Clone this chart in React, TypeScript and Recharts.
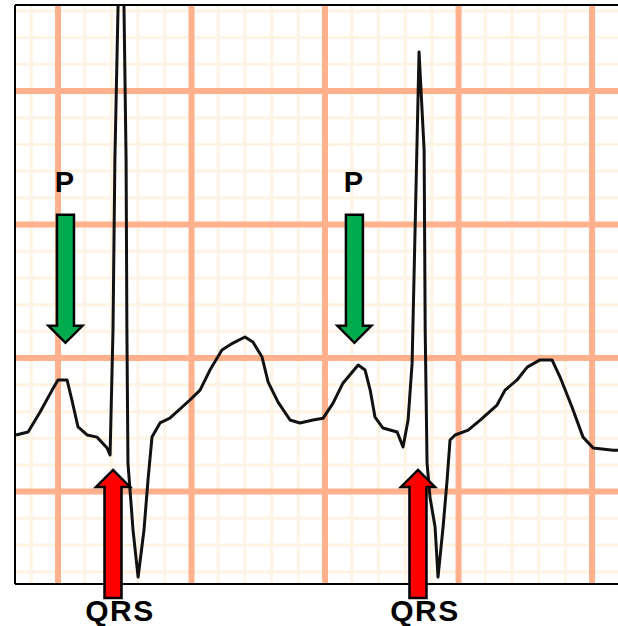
import React from 'react'
import { LineChart, Line, XAxis, YAxis, ReferenceLine, ReferenceDot } from 'recharts'

// one unit = one small (1 mm) box of the ECG paper
const traceX = [
  -1.57, -1.12, -0.67, -0.22, 0, 0.34, 0.52, 0.75, 1.09, 1.46, 1.84, 1.95, 2.06, 2.13, 2.25, 2.36,
  2.47, 2.55, 2.58, 2.62, 2.81, 3.0, 3.22, 3.37, 3.52, 3.82, 4.19, 4.94, 5.32, 5.69, 6.14, 6.55,
  7.0, 7.3, 7.64, 7.87, 8.24, 8.69, 9.06, 9.55, 9.93, 10.3, 10.67, 11.24, 11.5, 11.69, 11.87,
  12.17, 12.7, 12.92, 13.11, 13.26, 13.52, 13.71, 13.75, 13.82, 13.93, 14.12, 14.23, 14.42,
  14.57, 14.68, 14.87, 15.36, 15.81, 16.44, 16.74, 17.19, 17.57, 18.05, 18.5, 18.8, 19.25,
  19.66, 20.04, 20.79, 20.97,
]
const traceY = [
  2.12, 2.23, 2.98, 3.8, 4.18, 4.18, 3.43, 2.42, 2.12, 2.04, 1.63, 1.37, 6.05, 12.42, 18.22, 19.34,
  18.22, 12.42, 6.05, 1.07, -1.44, -3.2, -1.44, 0.43, 2.04, 2.57, 2.75, 3.43, 3.8, 4.55, 5.3, 5.56,
  5.79, 5.6, 5.04, 4.1, 3.35, 2.68, 2.57, 2.68, 2.75, 3.31, 4.06, 4.74, 4.55, 3.8, 2.79,
  2.38, 2.23, 1.67, 2.68, 4.81, 16.46, 12.79, 6.05, 1.07, -0.21, -1.33, -3.2, -1.33,
  0.43, 1.93, 2.12, 2.3, 2.68, 3.24, 3.8, 4.18, 4.66, 4.93, 4.93, 4.29, 3.16,
  2.04, 1.63, 1.55, 1.55,
]

const minorTicksX = [-1, 1, 2, 3, 4, 6, 7, 8, 9, 11, 12, 13, 14, 16, 17, 18, 19]
const majorTicksX = [0, 5, 10, 15, 20]
const minorTicksY = [-3, -2, -1, 1, 2, 3, 4, 6, 7, 8, 9, 11, 12, 13, 14, 16, 17, 18]
const majorTicksY = [0, 5, 10, 15]

const pWaves = [
  { x: 0.28, y: 5.57 },
  { x: 11.1, y: 5.57 },
]
const qrsComplexes = [
  { x: 2.06, y: 0.81 },
  { x: 13.48, y: 0.81 },
]

const data = traceX.map((x, i) => ({ x, v: traceY[i] }))

const X_DOMAIN: [number, number] = [-1.61, 20.97]
const Y_DOMAIN: [number, number] = [-3.46, 18.22]

const FONT = '"Liberation Sans", Arial, sans-serif'

type DotShapeProps = { cx?: number; cy?: number }

const DownArrow = ({ cx = 0, cy = 0 }: DotShapeProps) => {
  const pts = [
    [cx - 8.5, cy - 128],
    [cx + 8.5, cy - 128],
    [cx + 8.5, cy - 17],
    [cx + 17, cy - 17],
    [cx, cy],
    [cx - 17, cy - 17],
    [cx - 8.5, cy - 17],
  ]
  return (
    <g>
      <polygon
        points={pts.map((p) => p.join(',')).join(' ')}
        fill="#00AB4E"
        stroke="#000"
        strokeWidth={2.5}
      />
      <text
        x={cx - 1}
        y={cy - 151}
        textAnchor="middle"
        fontFamily={FONT}
        fontWeight="bold"
        fontSize={29}
        fill="#000"
      >
        P
      </text>
    </g>
  )
}

const UpArrow = ({ cx = 0, cy = 0 }: DotShapeProps) => {
  const pts = [
    [cx, cy],
    [cx + 17, cy + 17],
    [cx + 8.5, cy + 17],
    [cx + 8.5, cy + 128],
    [cx - 8.5, cy + 128],
    [cx - 8.5, cy + 17],
    [cx - 17, cy + 17],
  ]
  return (
    <g>
      <polygon
        points={pts.map((p) => p.join(',')).join(' ')}
        fill="#FF0000"
        stroke="#000"
        strokeWidth={2.5}
      />
      <text
        x={cx + 7}
        y={cy + 151}
        textAnchor="middle"
        fontFamily={FONT}
        fontWeight="bold"
        fontSize={30}
        letterSpacing={1.5}
        fill="#000"
      >
        QRS
      </text>
    </g>
  )
}

export default function App() {
  return (
    <div style={{ position: 'absolute', left: 0, top: 0, width: 618, height: 626, background: '#fff' }}>
      <LineChart
        width={618}
        height={626}
        data={data}
        margin={{ top: 5, right: 0, bottom: 42, left: 15 }}
        style={{ overflow: 'visible' }}
      >
        <XAxis dataKey="x" type="number" domain={X_DOMAIN} allowDataOverflow hide />
        <YAxis type="number" domain={Y_DOMAIN} allowDataOverflow hide />
        {minorTicksX.map((t) => (
          <ReferenceLine key={`mx${t}`} x={t} stroke="#FFF3E4" strokeWidth={3} />
        ))}
        {minorTicksY.map((t) => (
          <ReferenceLine key={`my${t}`} y={t} stroke="#FFF3E4" strokeWidth={3} />
        ))}
        {majorTicksX.map((t) => (
          <ReferenceLine key={`Mx${t}`} x={t} stroke="#FFB08C" strokeWidth={6} />
        ))}
        {majorTicksY.map((t) => (
          <ReferenceLine key={`My${t}`} y={t} stroke="#FFB08C" strokeWidth={6} />
        ))}
        {/* frame: left, bottom and top edges, no right edge */}
        <ReferenceLine x={X_DOMAIN[0]} stroke="#000" strokeWidth={2} />
        <ReferenceLine y={Y_DOMAIN[0]} stroke="#000" strokeWidth={2} />
        <ReferenceLine y={Y_DOMAIN[1]} stroke="#000" strokeWidth={2} />
        <Line
          type="linear"
          dataKey="v"
          stroke="#111"
          strokeWidth={3}
          strokeLinejoin="round"
          dot={false}
          isAnimationActive={false}
        />
        {pWaves.map((p, i) => (
          <ReferenceDot key={`p${i}`} x={p.x} y={p.y} ifOverflow="visible" shape={<DownArrow />} />
        ))}
        {qrsComplexes.map((p, i) => (
          <ReferenceDot key={`q${i}`} x={p.x} y={p.y} ifOverflow="visible" shape={<UpArrow />} />
        ))}
      </LineChart>
    </div>
  )
}
